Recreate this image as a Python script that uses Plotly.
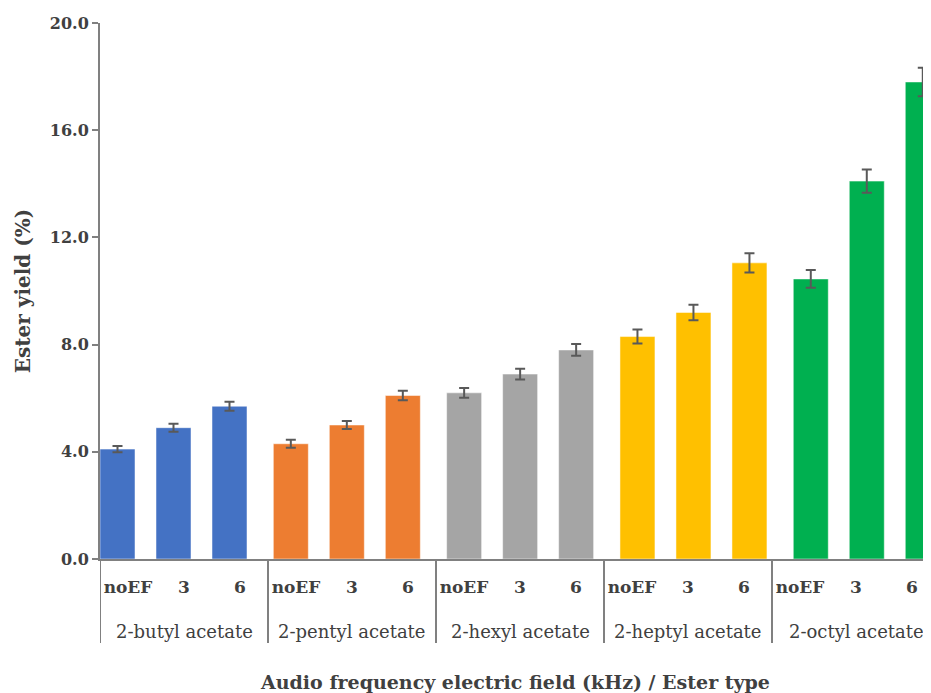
import plotly.graph_objects as go

esters = ["2-butyl acetate", "2-pentyl acetate", "2-hexyl acetate", "2-heptyl acetate", "2-octyl acetate"]
fields = ["noEF", "3", "6"]
yield_vals = [
    [4.1, 4.9, 5.7],
    [4.3, 5.0, 6.1],
    [6.2, 6.9, 7.8],
    [8.3, 9.2, 11.05],
    [10.45, 14.1, 17.8],
]
yield_err = [
    [0.12, 0.15, 0.17],
    [0.15, 0.15, 0.18],
    [0.18, 0.2, 0.22],
    [0.26, 0.29, 0.36],
    [0.33, 0.43, 0.53],
]
colors = ["#4472C4", "#ED7D31", "#A5A5A5", "#FFC000", "#00B050"]
y_ticks = [0, 4, 8, 12, 16, 20]

FONT = "DejaVu Serif"
TXT = "#404040"
AX = "#808080"

# page body has an 8px margin, so the figure is sized to the visible area
W, H = 923, 685
ML, MT, MB = 92, 15, 134
PLOT_H = H - MT - MB
PLOT_W = W - ML

# layout of category slots (one slot per bar, 3 slots per ester group)
n_per = len(fields)
bar_off = 0.3125      # bar centre offset inside its slot
group_pad = 0.095     # small extra spacing between ester groups
bar_w = 0.625

fig = go.Figure()
tick_pos, tick_txt = [], []
for i, e in enumerate(esters):
    xs = [n_per * i + j + bar_off + group_pad * i for j in range(n_per)]
    fig.add_trace(go.Bar(
        x=xs, y=yield_vals[i], width=bar_w, name=e,
        marker=dict(color=colors[i], line=dict(color="white", width=0.5)),
        error_y=dict(type="data", array=yield_err[i], visible=True,
                     color="#595959", thickness=2, width=5),
        showlegend=False,
    ))
    for j, f in enumerate(fields):
        tick_pos.append(n_per * i + j + 0.5)
        tick_txt.append("<b>" + f + "</b>")
    # group label
    fig.add_annotation(x=n_per * i + n_per / 2, y=-72 / PLOT_H, xref="x", yref="paper",
                       text=e, showarrow=False, yanchor="middle",
                       font=dict(family=FONT, size=18, color=TXT))
    # divider
    fig.add_shape(type="line", xref="x", yref="paper", x0=n_per * i, x1=n_per * i,
                  y0=0, y1=-84 / PLOT_H, line=dict(color=AX, width=2))

fig.update_layout(
    width=W, height=H,
    margin=dict(l=ML, r=0, t=MT, b=MB),
    paper_bgcolor="white", plot_bgcolor="white",
    font=dict(family=FONT, color=TXT, size=15),
)
fig.update_xaxes(
    range=[0, PLOT_W / 56], automargin=False,
    tickvals=tick_pos, ticktext=tick_txt,
    showline=True, linecolor=AX, linewidth=2,
    showgrid=False, zeroline=False, ticks="outside", ticklen=12, tickcolor="rgba(0,0,0,0)",
    tickfont=dict(family=FONT, size=17, color=TXT),
    title=dict(text="<b>Audio frequency electric field (kHz) / Ester type</b>",
               font=dict(family=FONT, size=19, color=TXT), standoff=84),
)
fig.update_yaxes(
    range=[0, 20], tickvals=y_ticks, tickformat=".1f", automargin=False,
    showline=True, linecolor=AX, linewidth=2,
    ticks="outside", ticklen=6, tickcolor=AX, tickwidth=2,
    showgrid=False, zeroline=False,
    tickfont=dict(family=FONT, size=16, color=TXT, weight="bold"),
    title=dict(text="<b>Ester yield (%)</b>", font=dict(family=FONT, size=20, color=TXT), standoff=14),
)

fig.write_html("out.html")
